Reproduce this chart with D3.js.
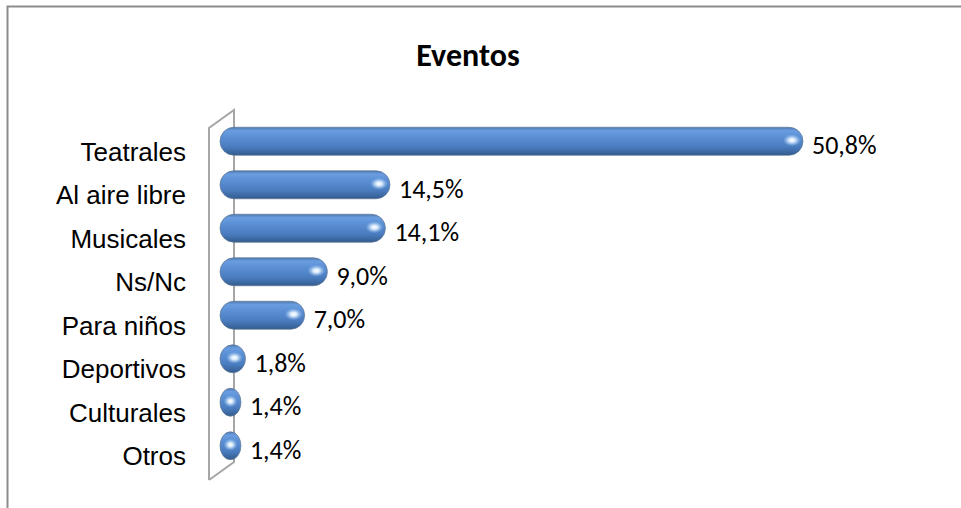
<!DOCTYPE html>
<html><head><meta charset="utf-8">
<script src="https://cdn.jsdelivr.net/npm/d3@7"></script>
<style>html,body{margin:0;padding:0;background:#fff;}svg{display:block;}</style>
</head><body>
<svg id="c" width="961" height="508"></svg>
<script>
const categories = ["Teatrales","Al aire libre","Musicales","Ns/Nc","Para niños","Deportivos","Culturales","Otros"];
const values = [50.8,14.5,14.1,9.0,7.0,1.8,1.4,1.4];
const valueLabels = ["50,8%","14,5%","14,1%","9,0%","7,0%","1,8%","1,4%","1,4%"];
const title = "Eventos";

const svg = d3.select("#c");

svg.append("path").attr("d","M7.5,508 L7.5,6.5 L961,6.5").attr("fill","none").attr("stroke","#8c8c8c").attr("stroke-width",2);

svg.append("text").attr("x",468).attr("y",66).attr("text-anchor","middle")
  .attr("font-family","Carlito, Lato, 'Open Sans', sans-serif").attr("font-weight","bold").attr("font-size",32)
  .attr("fill","#000").text(title);

const x = d3.scaleLinear().domain([0,50.8]).range([225,803]);
const y = d3.scaleBand().domain(categories).range([130.5,478.5]).paddingInner(0.35).paddingOuter(0.175);

const defs = svg.append("defs");
const g1 = defs.append("linearGradient").attr("id","bar").attr("x1",0).attr("y1",0).attr("x2",0).attr("y2",1);
[[0,"#4f78ad"],[0.12,"#6a9de0"],[0.35,"#5b8fd4"],[0.7,"#4a7cbf"],[0.9,"#3b679f"],[1,"#34598a"]].forEach(s=>g1.append("stop").attr("offset",s[0]).attr("stop-color",s[1]));
const hl = defs.append("radialGradient").attr("id","hl");
hl.append("stop").attr("offset",0).attr("stop-color","#ffffff").attr("stop-opacity",1);
hl.append("stop").attr("offset",0.35).attr("stop-color","#e6f4ff").attr("stop-opacity",0.9);
hl.append("stop").attr("offset",1).attr("stop-color","#9cc8f5").attr("stop-opacity",0);

const wall = svg.append("g").attr("fill","none").attr("stroke","#a6a6a6").attr("stroke-width",2);
wall.append("path").attr("d","M209,480 L209,128 L234,110 L234,462 L209,480");

const bh = 28;
const bars = svg.append("g");
categories.forEach((c,i)=>{
  const cy = y(c) + y.bandwidth()/2 - 11;
  const x0 = x(0) - 5, x1 = x(values[i]);
  const w = x1 - x0;
  const rx = Math.min(bh/2, w/2);
  bars.append("rect").attr("x",x0).attr("y",cy-bh/2).attr("width",w).attr("height",bh)
    .attr("rx",rx).attr("ry",bh/2).attr("fill","url(#bar)").attr("stroke","#5f7896").attr("stroke-width",0.7);
  bars.append("ellipse").attr("cx",x1-Math.min(11,w/2)).attr("cy",cy-1).attr("rx",Math.min(9,w/3)).attr("ry",6)
    .attr("fill","url(#hl)");
  svg.append("text").attr("x",x1+9).attr("y",cy+4).attr("dy","0.35em")
    .attr("font-family","Carlito, Lato, 'Open Sans', sans-serif").attr("font-size",26).attr("fill","#000")
    .text(valueLabels[i]);
});

const axis = d3.axisLeft(y).tickSize(0).tickPadding(0);
const ag = svg.append("g").attr("transform","translate(186,0)").call(axis);
ag.select(".domain").remove();
ag.selectAll("text").attr("font-family","'Liberation Sans', Arial, sans-serif").attr("font-size",26).attr("fill","#000");
</script>
</body></html>
